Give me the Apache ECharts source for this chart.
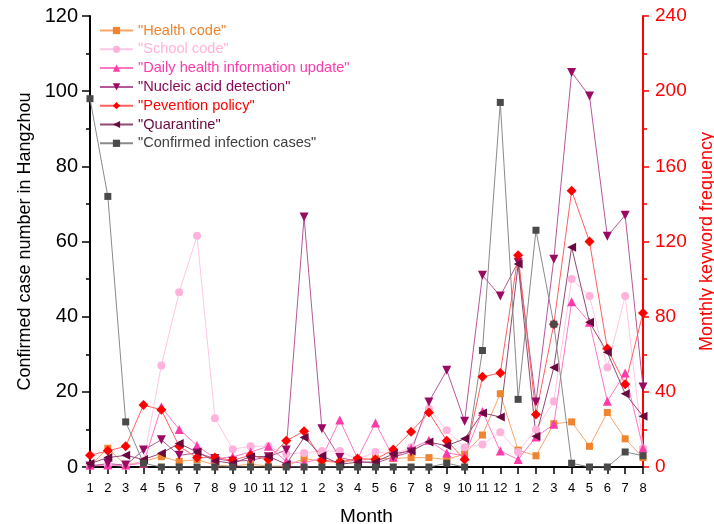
<!DOCTYPE html>
<html>
<head>
<meta charset="utf-8">
<script src="https://cdn.jsdelivr.net/npm/echarts@6/dist/echarts.min.js"></script>
<style>
  html, body { margin: 0; padding: 0; background: #fff; overflow: hidden; }
  #chart { width: 714px; height: 524px; }
</style>
</head>
<body>
<div id="chart"></div>
<script>
// x轴: 月份 (三年连续)
const monthLabels = ['1','2','3','4','5','6','7','8','9','10','11','12',
                     '1','2','3','4','5','6','7','8','9','10','11','12',
                     '1','2','3','4','5','6','7','8'];

// 左轴: 杭州确诊病例数
const confirmedCases = [98, 72, 12, 1, 0, 0, 0, 0, 0, 0, 0, 0,
                        0, 0, 0, 0, 0, 0, 0, 0, 1, 0, 31, 97,
                        18, 63, 38, 1, 0, 0, 4, 3];

// 右轴: 月度关键词频率
const healthCode = [0.5, 10, 1, 3, 5.5, 3, 4, 1, 0.5, 1.5, 0.5, 0.5,
                    4.5, 3, 2.5, 3.5, 4.5, 4.5, 5, 5, 4, 7, 17, 39,
                    9, 6, 23, 24, 11, 29, 15, 5];
const schoolCode = [0.5, 1, 0.5, 3, 54, 93, 123, 26, 9.5, 11, 11, 7,
                    7.5, 8.5, 8.5, 4, 8, 7, 10.5, 31, 19.5, 10.5, 12, 18.5,
                    8, 20, 35, 100, 91, 53, 91, 10];
const dailyUpdate = [1, 1, 1, 2, 32, 20, 11.5, 4.5, 5.4, 8, 11, 3,
                     2, 5, 25, 4.5, 23.4, 5.3, 9.8, 14.2, 7.5, 6, 29.5, 8.5,
                     4, 16, 22.7, 88, 77, 35, 50, 10];
const nucleicAcid = [0.5, 1.8, 1, 9, 14.5, 6.2, 7.5, 4.5, 3, 3.6, 5.4, 9,
                     133, 20.4, 5, 3, 2, 5.3, 8, 34.6, 51.5, 24.3, 102, 91,
                     109, 34.6, 110.5, 210, 197.4, 122.8, 134, 42.6];
const prevention = [6.2, 8.6, 11, 33, 30.4, 11, 5, 5, 3.6, 6.2, 4, 14,
                    19, 3.6, 2.7, 4.5, 4, 9.3, 18.8, 29, 14, 4, 48, 50,
                    112.7, 28, 76, 147, 120, 63, 44, 82];
const quarantine = [1.8, 5, 6.2, 4, 7.3, 12.5, 8, 3.2, 2, 5.4, 5.7, 1.5,
                    15.7, 6, 1.5, 2.5, 2.7, 7, 8.5, 13.3, 11.3, 15, 28.8, 26.6,
                    108, 16.3, 53, 117, 77, 61, 39, 27];

const FONT = '"Liberation Sans", Arial, sans-serif';

// 生成一条折线
function makeLine (name, data, color, lineColor, symbol, size, rotate, yIndex) {
  return {
    name: name,
    type: 'line',
    yAxisIndex: yIndex,
    data: data,
    symbol: symbol,
    symbolSize: size,
    symbolRotate: rotate,
    showAllSymbol: true,
    itemStyle: { color: color },
    lineStyle: { color: lineColor, width: 1 },
    emphasis: { disabled: true },
    animation: false
  };
}

const series = [
  makeLine('"Health code"', healthCode, '#F0842F', '#F6A66A', 'rect', 7, 0, 1),
  makeLine('"School code"', schoolCode, '#FFB3DC', '#FFC6E6', 'circle', 8, 0, 1),
  makeLine('"Daily health information update"', dailyUpdate, '#FF3AAA', '#FF77C4', 'triangle', 9, 0, 1),
  makeLine('"Nucleic acid detection"', nucleicAcid, '#9A0A62', '#B5589A', 'triangle', 9, 180, 1),
  makeLine('"Pevention policy"', prevention, '#FF0000', '#FF6060', 'diamond', 10, 0, 1),
  makeLine('"Quarantine"', quarantine, '#6A0840', '#8E4A72', 'triangle', 9, 90, 1),
  makeLine('"Confirmed infection cases"', confirmedCases, '#4A4A4A', '#8A8A8A', 'rect', 7, 0, 0)
];

// 图例文字颜色
const legendColors = ['#F0842F', '#FFB3DC', '#FF3AAA', '#8A0A58', '#FF0000', '#6A0840', '#404040'];

const chart = echarts.init(document.getElementById('chart'));
chart.setOption({
  backgroundColor: '#fff',
  textStyle: { fontFamily: FONT },
  // v6 默认会把轴名称挤进容器, 这里关掉
  grid: { left: 90, right: 71, top: 16, bottom: 57, containLabel: false, outerBoundsMode: 'none' },
  legend: {
    orient: 'vertical',
    left: 94,
    top: 18,
    itemWidth: 33,
    itemHeight: 9,
    itemGap: 3.8,
    selectedMode: false,
    data: series.map((s, i) => ({
      name: s.name,
      textStyle: { color: legendColors[i], fontSize: 14.6, fontFamily: FONT }
    }))
  },
  xAxis: {
    type: 'category',
    boundaryGap: false,
    data: monthLabels.map((m, i) => 'm' + i),
    name: 'Month',
    nameLocation: 'middle',
    nameGap: 40,
    nameTextStyle: { color: '#000', fontSize: 19, fontFamily: FONT },
    axisLine: { lineStyle: { color: '#000', width: 2 } },
    axisTick: { alignWithLabel: true, length: 7, lineStyle: { color: '#000', width: 1.5 } },
    axisLabel: {
      interval: 0,
      color: '#000',
      fontSize: 13,
      margin: 15,
      formatter: (v, idx) => monthLabels[idx]
    },
    splitLine: { show: false }
  },
  yAxis: [
    {
      type: 'value',
      min: 0,
      max: 120,
      interval: 20,
      position: 'left',
      name: 'Confirmed case number in Hangzhou',
      nameLocation: 'middle',
      nameRotate: 90,
      nameGap: 56,
      nameTextStyle: { color: '#000', fontSize: 18, fontFamily: FONT },
      axisLine: { show: true, lineStyle: { color: '#000', width: 2 } },
      axisTick: { show: true, length: 8, lineStyle: { color: '#000', width: 1.5 } },
      minorTick: { show: true, splitNumber: 2, length: 4, lineStyle: { color: '#000', width: 1.5 } },
      axisLabel: { color: '#000', fontSize: 20, margin: 12 },
      splitLine: { show: false }
    },
    {
      type: 'value',
      min: 0,
      max: 240,
      interval: 40,
      position: 'right',
      name: 'Monthly keyword frequency',
      nameLocation: 'middle',
      nameRotate: 90,
      nameGap: 54,
      nameTextStyle: { color: '#FF0000', fontSize: 18, fontFamily: FONT },
      axisLine: { show: true, lineStyle: { color: '#FF0000', width: 2 } },
      axisTick: { show: true, length: 6, lineStyle: { color: '#FF0000', width: 1.5 } },
      minorTick: { show: true, splitNumber: 2, length: 4, lineStyle: { color: '#FF0000', width: 1.5 } },
      axisLabel: { color: '#FF0000', fontSize: 19, margin: 12 },
      splitLine: { show: false }
    }
  ],
  series: series
});
</script>
</body>
</html>
